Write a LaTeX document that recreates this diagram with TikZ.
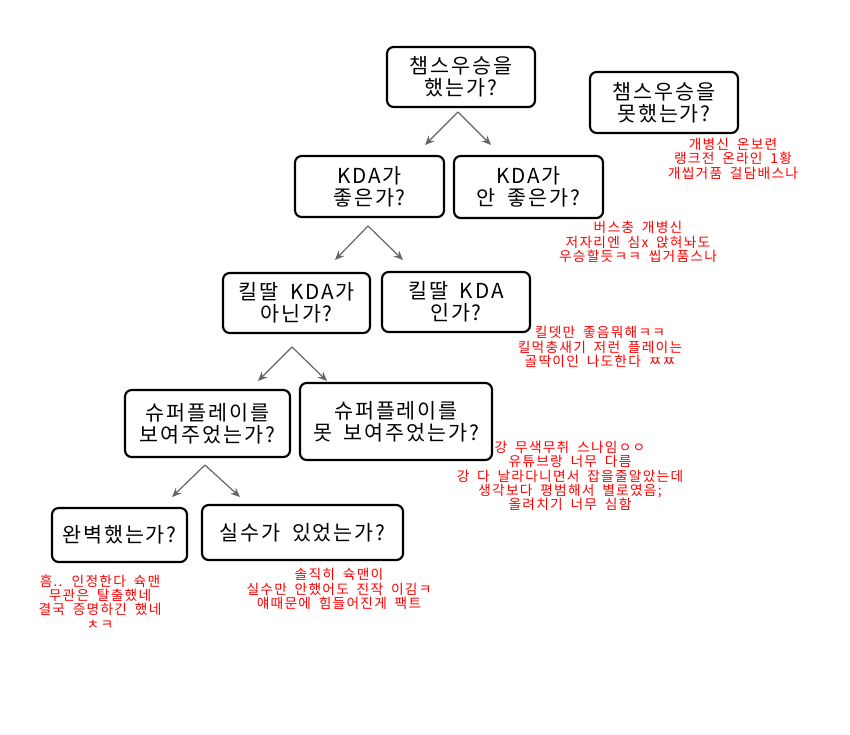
\documentclass[tikz,border=0pt]{standalone}
\usepackage{fontspec}
\setmainfont{Noto Sans CJK KR}
\newfontfamily\qfont[LetterSpace=9]{Noto Sans CJK KR}
\newfontfamily\notefont[LetterSpace=9,WordSpace=1.8]{Noto Sans CJK KR}
\usetikzlibrary{arrows.meta}

\tikzset{
  qbox/.style={draw, line width=1.6pt, rounded corners=5pt, align=center,
    inner sep=0pt, font=\qfont\fontsize{15.5}{16.5}\selectfont},
  fork/.style={-{Stealth[length=7pt,width=6pt]}, draw=black!60, line width=0.9pt},
  remark/.style={text=red, align=center, inner sep=0pt,
    font=\notefont\fontsize{10.3}{10.8}\selectfont},
}

\begin{document}
\begin{tikzpicture}[x=0.75pt, y=-0.75pt]
  % Page frame (pixel coordinates, origin top left)
  \useasboundingbox (0,0) rectangle (850,735);

  % Questions
  \node[qbox, minimum width=111pt, minimum height=45pt] (champ) at (461,77) {챔스우승을\\했는가?};
  \node[qbox, minimum width=111pt, minimum height=45.75pt] (nochamp) at (664,102.5) {챔스우승을\\못했는가?};
  \node[qbox, minimum width=111.75pt, minimum height=45.75pt] (goodkda) at (369.5,186.5) {KDA가\\좋은가?};
  \node[qbox, minimum width=111.75pt, minimum height=46.5pt] (badkda) at (528.5,187) {KDA가\\안 좋은가?};
  \node[qbox, minimum width=110.25pt, minimum height=45pt] (notpad) at (296.5,303) {킬딸 KDA가\\아닌가?};
  \node[qbox, minimum width=111pt, minimum height=45pt] (pad) at (456,302) {킬딸 KDA\\인가?};
  \node[qbox, minimum width=123.75pt, minimum height=50.25pt] (super) at (207.5,423.5) {슈퍼플레이를\\보여주었는가?};
  \node[qbox, minimum width=144pt, minimum height=57.75pt] (nosuper) at (396,421.5) {슈퍼플레이를\\못 보여주었는가?};
  \node[qbox, minimum width=101.25pt, minimum height=40.5pt] (perfect) at (119.5,535) {완벽했는가?};
  \node[qbox, minimum width=150.75pt, minimum height=41.25pt] (mistake) at (302.5,532.5) {실수가 있었는가?};

  % Forks between levels
  \coordinate (f1) at (458,112);
  \coordinate (f1l) at (425,145);
  \coordinate (f1r) at (491,145);
  \draw[fork] (f1) -- (f1l);
  \draw[fork] (f1) -- (f1r);

  \coordinate (f2) at (368,226);
  \coordinate (f2l) at (335,260);
  \coordinate (f2r) at (403,260);
  \draw[fork] (f2) -- (f2l);
  \draw[fork] (f2) -- (f2r);

  \coordinate (f3) at (292,347);
  \coordinate (f3l) at (258,381);
  \coordinate (f3r) at (327,381);
  \draw[fork] (f3) -- (f3l);
  \draw[fork] (f3) -- (f3r);

  \coordinate (f4) at (205,465);
  \coordinate (f4l) at (172,497);
  \coordinate (f4r) at (240,497);
  \draw[fork] (f4) -- (f4l);
  \draw[fork] (f4) -- (f4r);

  % Comments in red
  \node[remark] (r1) at (733,158.5) {개병신 온보련\\랭크전 온라인 1황\\개씹거품 걸담배스나};
  \node[remark] (r2) at (638,242) {버스충 개병신\\저자리엔 심x 앉혀놔도\\우승할듯ㅋㅋ 씹거품스나};
  \node[remark] (r3) at (600,347) {킬뎃만 좋음뭐해ㅋㅋ\\킬먹충새기 저런 플레이는\\골딱이인 나도한다 ㅉㅉ};
  \node[remark] (r4) at (570,476) {강 무색무취 스나임ㅇㅇ\\유튜브랑 너무 다름\\강 다 날라다니면서 잡을줄알았는데\\생각보다 평범해서 별로였음;\\올려치기 너무 심함};
  \node[remark] (r5) at (100,602) {흠.. 인정한다 슉맨\\무관은 탈출했네\\결국 증명하긴 했네\\ㅊㅋ};
  \node[remark] (r6) at (339,589) {솔직히 슉맨이\\실수만 안했어도 진작 이김ㅋ\\얘때문에 힘들어진게 팩트};
\end{tikzpicture}
\end{document}
